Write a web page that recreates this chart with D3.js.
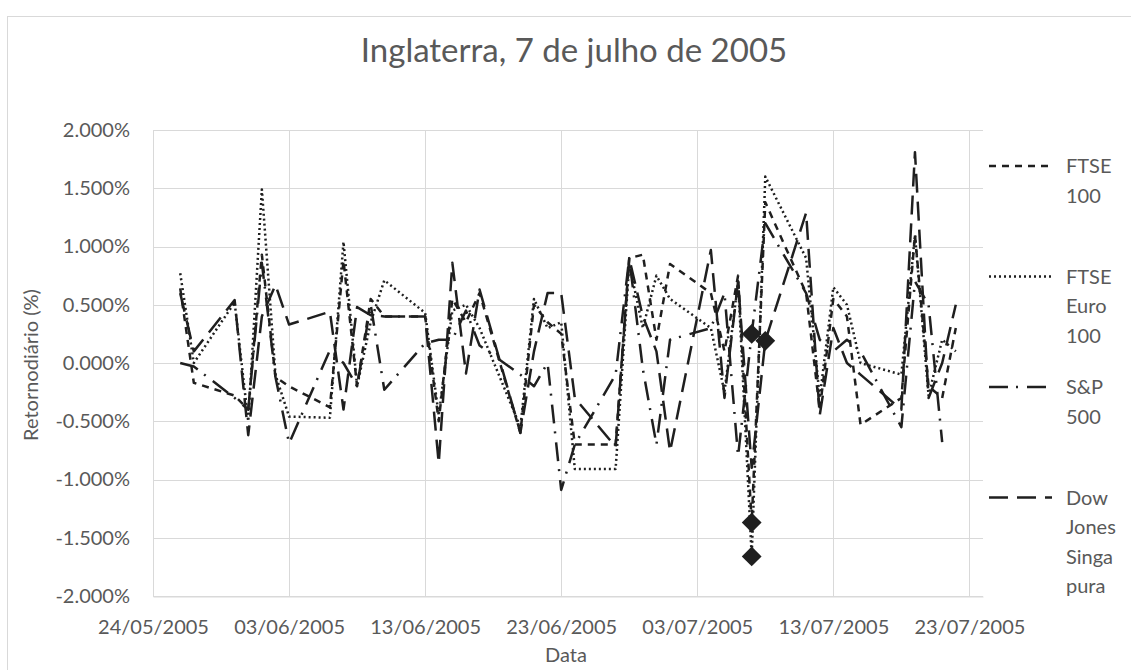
<!DOCTYPE html>
<html>
<head>
<meta charset="utf-8">
<script src="https://cdn.jsdelivr.net/npm/d3@7"></script>
<style>
  html, body { margin: 0; padding: 0; background: #fff; }
  svg { display: block; font-family: Lato, "Open Sans", sans-serif; }
</style>
</head>
<body>
<div id="chart"></div>
<script>
// trading days (dd/mm/yyyy)
const dates = ["26/05/2005","27/05/2005","30/05/2005","31/05/2005","01/06/2005","02/06/2005","03/06/2005",
  "06/06/2005","07/06/2005","08/06/2005","09/06/2005","10/06/2005","13/06/2005","14/06/2005","15/06/2005",
  "16/06/2005","17/06/2005","20/06/2005","21/06/2005","22/06/2005","23/06/2005","24/06/2005","27/06/2005",
  "28/06/2005","29/06/2005","30/06/2005","01/07/2005","04/07/2005","05/07/2005","06/07/2005","07/07/2005",
  "08/07/2005","11/07/2005","12/07/2005","13/07/2005","14/07/2005","15/07/2005","18/07/2005","19/07/2005",
  "20/07/2005","21/07/2005","22/07/2005"]

// daily returns in %
const ftse100 = [0.64,-0.17,-0.28,-0.4,0.93,-0.12,-0.2,-0.38,0.88,-0.2,0.55,0.4,0.4,-0.5,0.55,0.35,0.6,-0.6,0.5,0.35,0.25,-0.7,-0.7,0.9,0.93,0.2,0.85,0.6,0.1,0.75,-1.37,1.38,0.6,-0.4,0.55,0.4,-0.53,-0.3,1.1,-0.2,-0.3,0.3]
const ftseEuro100 = [0.77,0.0,0.52,-0.5,1.49,-0.1,-0.46,-0.47,1.04,-0.2,0.35,0.71,0.43,-0.45,0.45,0.5,0.3,-0.55,0.55,0.3,0.35,-0.91,-0.91,0.85,0.3,0.75,0.55,0.3,-0.25,0.7,-1.66,1.6,0.9,-0.3,0.65,0.5,0.0,-0.1,1.1,-0.28,0.2,0.1]
const sp500 = [0.0,-0.03,-0.3,-0.4,0.86,-0.12,-0.69,0.11,0.0,-0.2,0.5,-0.23,0.17,0.2,0.2,0.45,0.15,-0.1,-0.2,0.0,-1.09,-0.7,-0.1,0.9,-0.05,-0.7,0.2,0.3,0.6,-0.8,0.25,1.2,0.6,0.2,0.1,0.2,0.1,-0.55,0.7,0.5,-0.68,null]
const dowJonesSing = [0.6,0.1,0.54,-0.62,0.4,0.67,0.33,0.44,-0.4,0.48,0.41,0.4,0.4,-0.86,0.86,-0.09,0.63,-0.6,0.1,0.6,0.6,-0.3,-0.72,0.9,0.4,0.1,-0.76,0.97,-0.3,0.7,-0.9,0.19,1.29,-0.45,0.3,0.0,-0.1,-0.4,1.81,-0.3,0.0,0.5]

const seriesNames = ["FTSE 100", "FTSE Euro 100", "S&P 500", "Dow Jones Singapura"]
const legendLines = [["FTSE", "100"], ["FTSE", "Euro", "100"], ["S&P", "500"], ["Dow", "Jones", "Singa", "pura"]]
const dashes = ["7,6", "2,3", "19,8,2,9", "19,9"]

// attack-day points highlighted with diamonds
const markerDates = [["07/07/2005"], ["07/07/2005"], ["07/07/2005"], ["08/07/2005"]]

const xTicks = ["24/05/2005","03/06/2005","13/06/2005","23/06/2005","03/07/2005","13/07/2005","23/07/2005"]
const xDomain = ["24/05/2005", "24/07/2005"]
const yTicks = [-2, -1.5, -1, -0.5, 0, 0.5, 1, 1.5, 2]

const width = 1131, height = 670
const margin = {top: 130, right: 148, bottom: 74, left: 153}
const parse = d3.timeParse("%d/%m/%Y")
const ink = "#1f1f1f", grey = "#595959", gridCol = "#d9d9d9"
const fontSize = 20

const svg = d3.select("#chart").append("svg")
  .attr("width", width).attr("height", height)

// chart frame
svg.append("rect")
  .attr("x", 7.5).attr("y", 16.5).attr("width", width + 10).attr("height", height + 10)
  .attr("fill", "none").attr("stroke", gridCol)

const x = d3.scaleTime()
  .domain(xDomain.map(parse))
  .range([margin.left, width - margin.right])

const y = d3.scaleLinear()
  .domain([-2, 2])
  .range([height - margin.bottom, margin.top])

// gridlines
svg.append("g")
  .selectAll("line.h").data(yTicks).join("line")
  .attr("x1", margin.left).attr("x2", width - margin.right)
  .attr("y1", d => Math.round(y(d)) + 0.5).attr("y2", d => Math.round(y(d)) + 0.5)
  .attr("stroke", gridCol)

svg.append("g")
  .selectAll("line.v").data(xTicks.map(parse)).join("line")
  .attr("x1", d => Math.round(x(d)) + 0.5).attr("x2", d => Math.round(x(d)) + 0.5)
  .attr("y1", margin.top).attr("y2", height - margin.bottom)
  .attr("stroke", gridCol)

// x axis
const xAxis = svg.append("g")
  .attr("transform", `translate(0,${Math.round(y(-2)) + 0.5})`)
  .call(d3.axisBottom(x).tickValues(xTicks.map(parse)).tickFormat(d3.timeFormat("%d/%m/%Y")).tickSize(0).tickPadding(23))
xAxis.select(".domain").attr("stroke", gridCol)
xAxis.selectAll("text").attr("fill", grey).attr("font-size", fontSize).attr("font-family", "Lato")

// y axis (plain hyphen for negatives, like the original)
const yAxis = svg.append("g")
  .attr("transform", `translate(${margin.left},0)`)
  .call(d3.axisLeft(y).tickValues(yTicks).tickFormat(d => d.toFixed(3) + "%").tickSize(0).tickPadding(23))
yAxis.select(".domain").remove()
yAxis.selectAll("text").attr("fill", grey).attr("font-size", fontSize).attr("font-family", "Lato")

// titles
svg.append("text")
  .attr("x", 574).attr("y", 62)
  .attr("text-anchor", "middle").attr("fill", grey).attr("font-size", 33)
  .text("Inglaterra, 7 de julho de 2005")

svg.append("text")
  .attr("x", 566).attr("y", 662)
  .attr("text-anchor", "middle").attr("fill", grey).attr("font-size", fontSize)
  .text("Data")

svg.append("text")
  .attr("transform", "translate(38,365) rotate(-90)")
  .attr("text-anchor", "middle").attr("fill", grey).attr("font-size", fontSize)
  .text("Retornodiário (%)")

// series
const allSeries = [ftse100, ftseEuro100, sp500, dowJonesSing]
const series = allSeries.map((vals, i) => ({
  name: seriesNames[i],
  dash: dashes[i],
  points: dates.map((d, j) => ({date: parse(d), value: vals[j]})).filter(p => p.value != null)
}))

const line = d3.line()
  .x(d => x(d.date))
  .y(d => y(d.value))

svg.append("g")
  .selectAll("path").data(series).join("path")
  .attr("d", d => line(d.points))
  .attr("fill", "none")
  .attr("stroke", ink)
  .attr("stroke-width", 2.5)
  .attr("stroke-dasharray", d => d.dash)
  .attr("stroke-linejoin", "round")

// diamonds
const markerPts = series.flatMap((s, i) =>
  markerDates[i].map(md => s.points.find(p => +p.date === +parse(md))))

svg.append("g")
  .selectAll("path").data(markerPts).join("path")
  .attr("transform", d => `translate(${x(d.date)},${y(d.value)})`)
  .attr("d", d3.symbol(d3.symbolDiamond2, 250))
  .attr("fill", ink)

// legend
const legend = svg.append("g")
  .selectAll("g").data(series).join("g")
  .attr("transform", (d, i) => `translate(989,${166 + i * 110.5})`)

legend.append("line")
  .attr("x1", 0).attr("x2", 63).attr("y1", 0).attr("y2", 0)
  .attr("stroke", ink).attr("stroke-width", 2.5)
  .attr("stroke-dasharray", d => d.dash)

legend.each(function(d, i) {
  d3.select(this).selectAll("text").data(legendLines[i]).join("text")
    .attr("x", 77).attr("y", (t, k) => k * 29.5 + 7)
    .attr("fill", grey).attr("font-size", fontSize)
    .text(t => t)
})
</script>
</body>
</html>
